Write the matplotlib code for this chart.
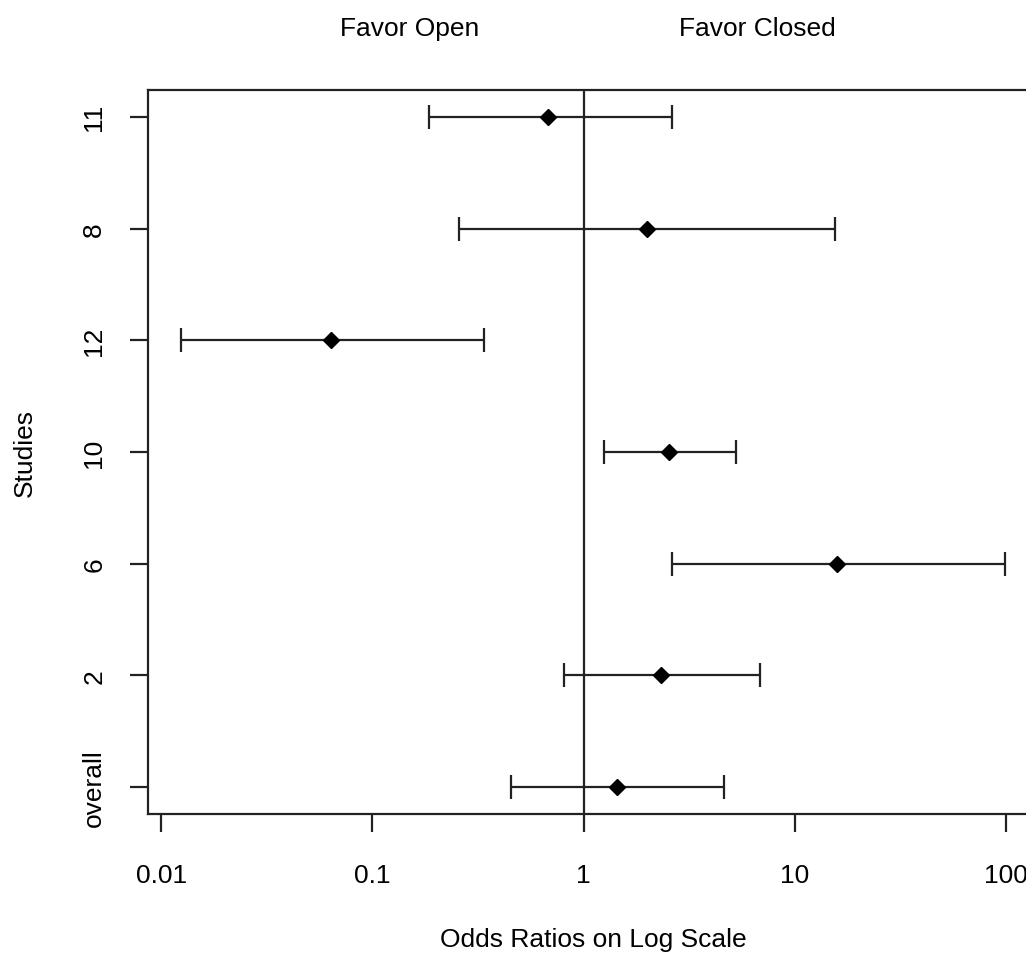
import matplotlib

matplotlib.use("Agg")

import matplotlib.pyplot as plt
import numpy as np

# studies from bottom to top
studies = ["overall", "2", "6", "10", "12", "8", "11"]
odds_ratio = [1.44, 2.32, 15.9, 2.53, 0.064, 2.0, 0.68]
ci_lower = [0.452, 0.806, 2.62, 1.245, 0.0124, 0.258, 0.186]
ci_upper = [4.64, 6.88, 99.0, 5.29, 0.336, 15.5, 2.63]

x_ticks = [0.01, 0.1, 1, 10, 100]
x_tick_labels = ["0.01", "0.1", "1", "10", "100"]

plt.rcParams["font.family"] = ["Liberation Sans", "DejaVu Sans"]

fig = plt.figure(figsize=(10.26, 9.54), dpi=100)
# right edge of the box falls outside the picture, like the original crop
ax = fig.add_axes([148 / 1026, 139 / 954, 890 / 1026, 724 / 954])

pos = np.arange(1, len(studies) + 1)
or_arr = np.array(odds_ratio)
err = [or_arr - np.array(ci_lower), np.array(ci_upper) - or_arr]
ax.errorbar(
    or_arr,
    pos,
    xerr=err,
    fmt="D",
    color="black",
    ecolor="#222222",
    markersize=8,
    elinewidth=1.6,
    capsize=8.6,
    capthick=1.6,
)
ax.axvline(1, color="#222222", linewidth=1.6)

ax.set_xscale("log")
lo, hi = np.log10(min(ci_lower)), np.log10(max(ci_upper))
pad = 0.04 * (hi - lo)
ax.set_xlim(10 ** (lo - pad), 10 ** (hi + pad))
ax.set_ylim(0.76, len(studies) + 0.24)

ax.set_xticks(x_ticks)
ax.set_xticklabels(x_tick_labels)
ax.xaxis.set_minor_locator(matplotlib.ticker.NullLocator())
ax.set_yticks(pos)
ax.set_yticklabels(studies, rotation=90, va="center")

ax.tick_params(axis="both", length=13, width=1.6, color="#222222", labelsize=19)
ax.tick_params(axis="x", pad=22)
ax.tick_params(axis="y", pad=17)
for spine in ax.spines.values():
    spine.set_linewidth(1.6)
    spine.set_color("#222222")

ax.set_xlabel("Odds Ratios on Log Scale", fontsize=19, labelpad=29)
ax.set_ylabel("Studies", fontsize=19, labelpad=33)

ax.text(0.15, 1.085, "Favor Open", transform=ax.get_xaxis_transform(),
        ha="center", va="center", fontsize=19)
ax.text(6.65, 1.085, "Favor Closed", transform=ax.get_xaxis_transform(),
        ha="center", va="center", fontsize=19)

fig.savefig("out.png", dpi=100)
